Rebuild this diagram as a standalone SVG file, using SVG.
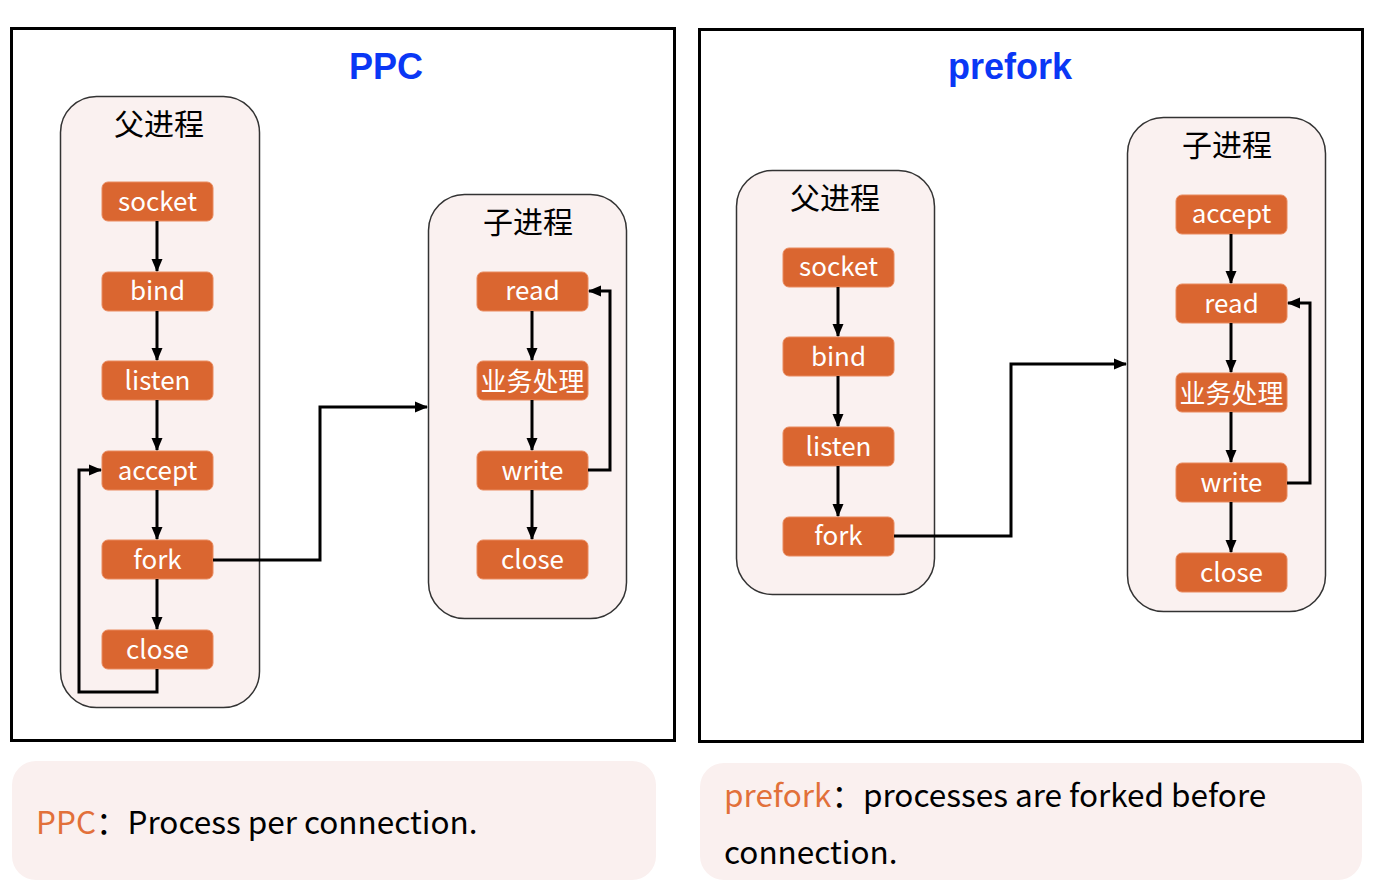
<svg xmlns="http://www.w3.org/2000/svg" width="1376" height="891" viewBox="0 0 1376 891">
<style>
.frame{fill:#fff;stroke:#000;stroke-width:3}
.cont{fill:#faf1f0;stroke:#333;stroke-width:1.5}
.node rect{fill:#da6630;stroke:#e98a5e;stroke-width:1}
.node text{fill:#fff;font-family:"Noto Sans CJK SC","Noto Sans",sans-serif;font-size:26px;text-anchor:middle;dominant-baseline:central}
.ctitle{fill:#000;font-family:"Noto Sans CJK SC",sans-serif;font-size:30px;text-anchor:middle;dominant-baseline:central}
.title{fill:#0a37f5;font-family:"Liberation Sans",Arial,sans-serif;font-weight:bold;font-size:36px;text-anchor:middle}
.note{fill:#faf0ef}
.nt{font-family:"Noto Sans CJK SC","Noto Sans",sans-serif;font-size:31.5px;fill:#000}
.or{fill:#e2703a}
.conn path{fill:none;stroke:#000;stroke-width:3}
</style>
<defs>
<marker id="ah" markerWidth="13" markerHeight="13" refX="12" refY="6.5" orient="auto" markerUnits="userSpaceOnUse">
<path d="M0,1 L13,6.5 L0,12 Z" fill="#000"/>
</marker>
</defs>
<rect width="1376" height="891" fill="#fff"/>
<rect class="frame" x="11.5" y="28.5" width="663" height="712"/>
<rect class="frame" x="699.5" y="29.5" width="663" height="712"/>
<text class="title" x="386" y="79">PPC</text>
<text class="title" x="1010" y="79">prefork</text>

<g id="ppc-parent">
<rect class="cont" x="60.5" y="96.5" width="199" height="611" rx="36"/>
<text class="ctitle" x="159" y="122">父进程</text>
</g>
<g id="ppc-child">
<rect class="cont" x="428.5" y="194.5" width="198" height="424" rx="36"/>
<text class="ctitle" x="528" y="220">子进程</text>
</g>
<g id="pf-parent">
<rect class="cont" x="736.5" y="170.5" width="198" height="424" rx="36"/>
<text class="ctitle" x="835" y="196">父进程</text>
</g>
<g id="pf-child">
<rect class="cont" x="1127.5" y="117.5" width="198" height="494" rx="36"/>
<text class="ctitle" x="1227" y="143">子进程</text>
</g>

<g id="ppc-socket" class="node"><rect x="102" y="182" width="111" height="39" rx="6"/><text x="157.5" y="199">socket</text></g>
<g id="ppc-bind" class="node"><rect x="102" y="272" width="111" height="39" rx="6"/><text x="157.5" y="288.5">bind</text></g>
<g id="ppc-listen" class="node"><rect x="102" y="361" width="111" height="39" rx="6"/><text x="157.5" y="378.5">listen</text></g>
<g id="ppc-accept" class="node"><rect x="102" y="451" width="111" height="39" rx="6"/><text x="157.5" y="468">accept</text></g>
<g id="ppc-fork" class="node"><rect x="102" y="540" width="111" height="39" rx="6"/><text x="157.5" y="557.5">fork</text></g>
<g id="ppc-close" class="node"><rect x="102" y="630" width="111" height="39" rx="6"/><text x="157.5" y="647.5">close</text></g>

<g id="ppc-read" class="node"><rect x="477" y="272" width="111" height="39" rx="6"/><text x="532.5" y="288.5">read</text></g>
<g id="ppc-biz" class="node"><rect x="477" y="361" width="111" height="39" rx="6"/><text x="532.5" y="379">业务处理</text></g>
<g id="ppc-write" class="node"><rect x="477" y="451" width="111" height="39" rx="6"/><text x="532.5" y="468">write</text></g>
<g id="ppc-cclose" class="node"><rect x="477" y="540" width="111" height="39" rx="6"/><text x="532.5" y="557.5">close</text></g>

<g id="pf-socket" class="node"><rect x="783" y="248" width="111" height="39" rx="6"/><text x="838.5" y="264.5">socket</text></g>
<g id="pf-bind" class="node"><rect x="783" y="337" width="111" height="39" rx="6"/><text x="838.5" y="354.5">bind</text></g>
<g id="pf-listen" class="node"><rect x="783" y="427" width="111" height="39" rx="6"/><text x="838.5" y="444.5">listen</text></g>
<g id="pf-fork" class="node"><rect x="783" y="517" width="111" height="39" rx="6"/><text x="838.5" y="533.5">fork</text></g>

<g id="pf-accept" class="node"><rect x="1176" y="195" width="111" height="39" rx="6"/><text x="1231.5" y="211.5">accept</text></g>
<g id="pf-read" class="node"><rect x="1176" y="284" width="111" height="39" rx="6"/><text x="1231.5" y="301.5">read</text></g>
<g id="pf-biz" class="node"><rect x="1176" y="373" width="111" height="39" rx="6"/><text x="1231.5" y="391">业务处理</text></g>
<g id="pf-write" class="node"><rect x="1176" y="463" width="111" height="39" rx="6"/><text x="1231.5" y="480.5">write</text></g>
<g id="pf-close" class="node"><rect x="1176" y="553" width="111" height="39" rx="6"/><text x="1231.5" y="570.5">close</text></g>

<g id="connectors" class="conn">
<path d="M157,221 V271" marker-end="url(#ah)"/>
<path d="M157,311 V360" marker-end="url(#ah)"/>
<path d="M157,400 V450" marker-end="url(#ah)"/>
<path d="M157,490 V539" marker-end="url(#ah)"/>
<path d="M157,579 V629" marker-end="url(#ah)"/>
<path d="M157,669 V692 H79 V470 H101" marker-end="url(#ah)"/>
<path d="M213,560 H320 V407 H427" marker-end="url(#ah)"/>
<path d="M532,311 V360" marker-end="url(#ah)"/>
<path d="M532,400 V450" marker-end="url(#ah)"/>
<path d="M532,490 V539" marker-end="url(#ah)"/>
<path d="M588,470 H610 V291 H589" marker-end="url(#ah)"/>
<path d="M838,287 V336" marker-end="url(#ah)"/>
<path d="M838,376 V426" marker-end="url(#ah)"/>
<path d="M838,466 V516" marker-end="url(#ah)"/>
<path d="M894,536 H1011 V364 H1126" marker-end="url(#ah)"/>
<path d="M1231,234 V283" marker-end="url(#ah)"/>
<path d="M1231,323 V372" marker-end="url(#ah)"/>
<path d="M1231,412 V462" marker-end="url(#ah)"/>
<path d="M1231,502 V552" marker-end="url(#ah)"/>
<path d="M1287,483 H1310 V303 H1288" marker-end="url(#ah)"/>
</g>

<g id="note-ppc">
<rect class="note" x="12" y="761" width="644" height="119" rx="24"/>
<text class="nt" x="36" y="834"><tspan class="or">PPC</tspan>：Process per connection.</text>
</g>
<g id="note-prefork">
<rect class="note" x="700" y="763" width="662" height="117" rx="24"/>
<text class="nt" x="724" y="807"><tspan class="or">prefork</tspan>：processes are forked before</text>
<text class="nt" x="724" y="864">connection.</text>
</g>
</svg>
